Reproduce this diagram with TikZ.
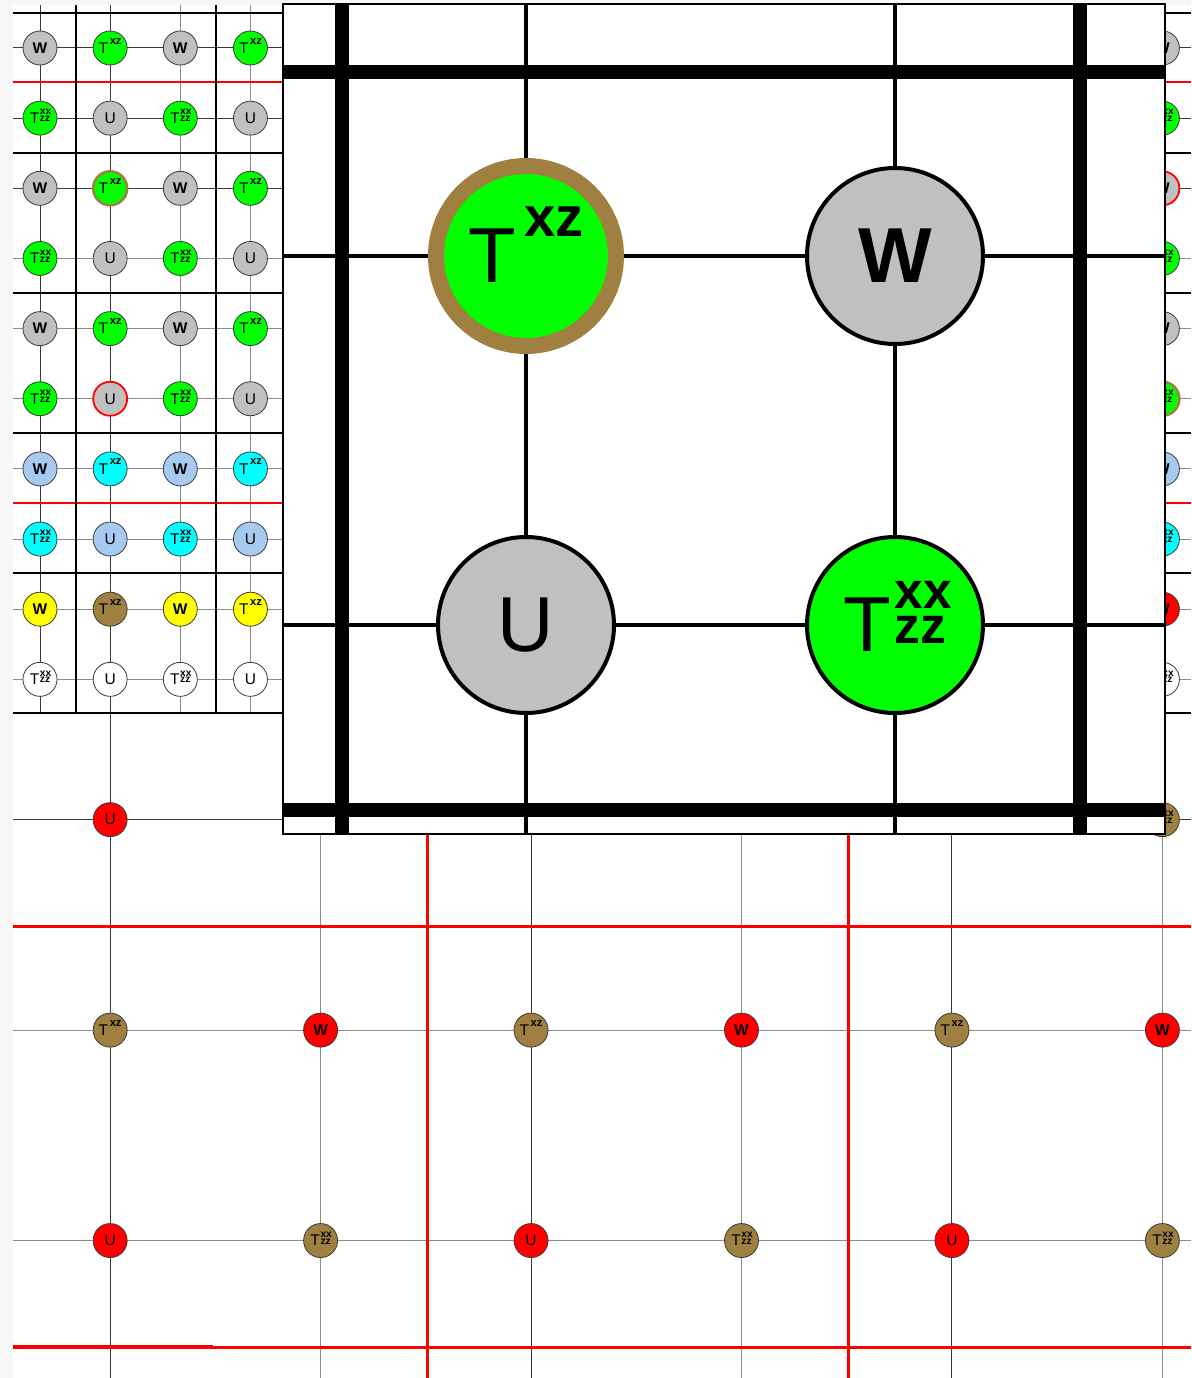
\documentclass[tikz,border=0pt]{standalone}
\usepackage{fontspec}
\setmainfont{Liberation Sans}
\usepackage{graphicx}
\definecolor{sgray}{HTML}{C0C0C0}
\definecolor{sgreen}{HTML}{00FF00}
\definecolor{scyan}{HTML}{00FFFF}
\definecolor{sblue}{HTML}{A6CAF0}
\definecolor{syellow}{HTML}{FFFF00}
\definecolor{sbrown}{HTML}{A08040}
\definecolor{bonddark}{HTML}{3A3A3A}
\definecolor{bondlight}{HTML}{8C8C8C}
\definecolor{paper}{HTML}{F7F7F7}
\newcommand\Txz{T\kern0.1em\smash{\raisebox{0.6em}{\scalebox{0.72}{\bfseries xz}}}}
\newcommand\Tzz{T\kern0.04em\smash{\rlap{\raisebox{0.55em}{\scalebox{0.66}{\bfseries xx}}}\raisebox{0.11em}{\scalebox{0.66}{\bfseries zz}}}}
\newcommand\pitch{70.15}

\begin{document}
\begin{tikzpicture}[x=1pt, y=-1pt,
  site/.style={circle, draw=bonddark, line width=0.8pt, minimum size=34pt, inner sep=0pt, font=\fontsize{15.5}{16}\selectfont},
  bigsite/.style={circle, draw=black, line width=4pt, minimum size=176pt, inner sep=0pt, font=\fontsize{78}{80}\selectfont},
  bond/.style={draw=bondlight, line width=1pt},
  darkbond/.style={draw=bonddark, line width=1pt},
  cell/.style={draw=black, line width=2.2pt},
  redline/.style={draw=red, line width=2.2pt},
  hl 1-2/.style={draw=sbrown, line width=2.5pt},
  hl 1-5/.style={draw=red, line width=1.8pt},
  hl 1-8/.style={fill=sbrown},
  hl 16-2/.style={draw=red, line width=1.8pt},
  hl 16-5/.style={draw=sbrown, line width=2.5pt},
  hl 16-8/.style={fill=red}]
\path[use as bounding box] (0,0) rectangle (1191,1378);
\fill[paper] (0,0) rectangle (1191,1378);
\fill[white] (13,5) rectangle (1191,1378);
\begin{scope}
\clip (13,5) rectangle (1191,1378);
\foreach \j/\b in {0/darkbond,1/darkbond,2/darkbond,3/bond,4/bond,5/bond,6/bond,7/bond,8/bond,9/bond,11/darkbond,14/bond,17/bond} {
  \coordinate (row\j-w) at (13,{48+\pitch*\j});
  \coordinate (row\j-e) at (1191,{48+\pitch*\j});
  \draw[\b] (row\j-w) -- (row\j-e);
}
\foreach \i/\b/\ya/\yb in {0/darkbond/5/713,1/darkbond/5/1378,2/bond/5/713,3/bond/5/713,4/bond/713/1378,7/darkbond/713/1378,10/bond/713/1378,13/darkbond/713/1378,16/bond/5/1378} {
  \coordinate (col\i-n) at ({40+\pitch*\i},\ya);
  \coordinate (col\i-s) at ({40+\pitch*\i},\yb);
  \draw[\b] (col\i-n) -- (col\i-s);
}
\draw[redline] (13,82) -- (1191,82) (13,503) -- (1191,503);
\draw[redline, line width=3pt] (13,926) -- (1191,926) (13,1347) -- (1191,1347) (427,834) -- (427,1378) (848,834) -- (848,1378);
\draw[redline, line width=4pt] (13,1347) -- (213,1347);
\foreach \y in {13,153,293,433,573,713}
  \draw[cell] (13,\y) -- (1191,\y);
\draw[cell] (76,5) -- (76,713) (216,5) -- (216,713);
\foreach \j/\cw/\ct in {0/sgray/sgreen,1/sgray/sgreen,2/sgray/sgreen,3/sgray/sgreen,4/sgray/sgreen,5/sgray/sgreen,6/sblue/scyan,7/sblue/scyan,8/syellow/syellow,9/white/white}
  \foreach \i in {0,1,2,3,16} {
    \pgfmathtruncatemacro\k{mod(\i,2)+2*mod(\j,2)}
    \ifnum\k=1 \def\fc{\ct}\else\ifnum\k=2 \def\fc{\ct}\else\def\fc{\cw}\fi\fi
    \node[site, fill=\fc, hl \i-\j/.try] (s-\i-\j) at ({40+\pitch*\i},{48+\pitch*\j}) {\ifcase\k{\bfseries W}\or\Txz\or\Tzz\or U\fi};
  }
\foreach \j in {11,14,17}
  \foreach \i in {1,4,...,16} {
    \pgfmathtruncatemacro\k{mod(\i,2)+2*mod(\j,2)}
    \pgfmathtruncatemacro\hid{(\j==11)*(\i>1)*(\i<16)}
    \ifnum\k=1 \def\fc{sbrown}\else\ifnum\k=2 \def\fc{sbrown}\else\def\fc{red}\fi\fi
    \ifnum\hid=0
      \node[site, fill=\fc] (l-\i-\j) at ({40+\pitch*\i},{48+\pitch*\j}) {\ifcase\k{\bfseries W}\or\Txz\or\Tzz\or U\fi};
    \fi
  }
\end{scope}
\begin{scope}
\fill[white] (283,4) rectangle (1165,834);
\clip (283,4) rectangle (1165,834);
\draw[line width=4pt] (526,4) -- (526,834) (895,4) -- (895,834) (283,256) -- (1165,256) (283,625) -- (1165,625);
\draw[line width=14pt] (342,4) -- (342,834) (1080,4) -- (1080,834) (283,72) -- (1165,72) (283,810) -- (1165,810);
\node[bigsite, fill=sgreen, draw=sbrown, line width=16pt, minimum size=180pt] (bigTxz) at (526,256) {\Txz};
\node[bigsite, fill=sgray] (bigW) at (895,256) {{\bfseries W}};
\node[bigsite, fill=sgray] (bigU) at (526,625) {U};
\node[bigsite, fill=sgreen] (bigTzz) at (895,625) {\Tzz};
\end{scope}
\draw[line width=1.6pt] (283,4) rectangle (1165,834);
\end{tikzpicture}
\end{document}
